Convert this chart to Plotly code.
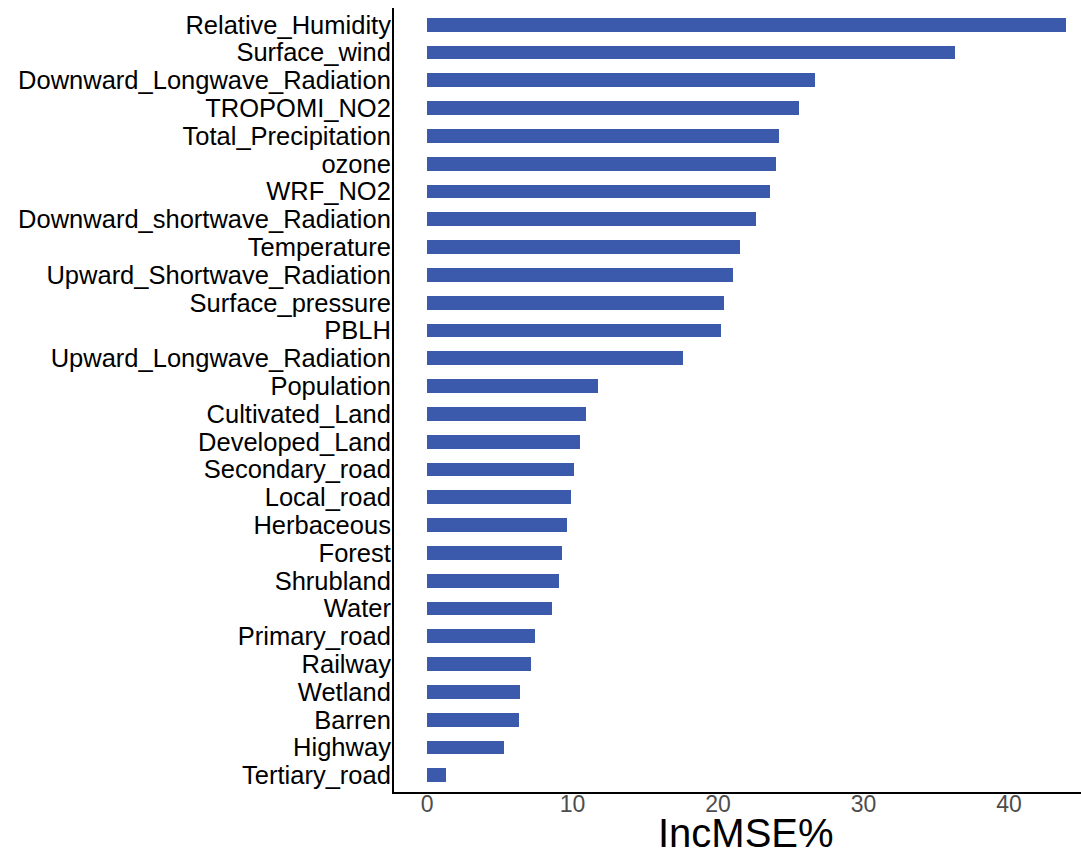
import plotly.graph_objects as go

categories = [
    "Relative_Humidity", "Surface_wind", "Downward_Longwave_Radiation", "TROPOMI_NO2",
    "Total_Precipitation", "ozone", "WRF_NO2", "Downward_shortwave_Radiation",
    "Temperature", "Upward_Shortwave_Radiation", "Surface_pressure", "PBLH",
    "Upward_Longwave_Radiation", "Population", "Cultivated_Land", "Developed_Land",
    "Secondary_road", "Local_road", "Herbaceous", "Forest", "Shrubland", "Water",
    "Primary_road", "Railway", "Wetland", "Barren", "Highway", "Tertiary_road",
]
incmse = [
    43.9, 36.3, 26.7, 25.6, 24.2, 24.0, 23.6, 22.6, 21.5, 21.0, 20.4, 20.2,
    17.6, 11.75, 10.9, 10.5, 10.1, 9.9, 9.6, 9.25, 9.1, 8.6, 7.4, 7.15,
    6.4, 6.3, 5.3, 1.3,
]
x_ticks = [0, 10, 20, 30, 40]

fig = go.Figure(go.Bar(
    x=incmse, y=categories, orientation="h", width=0.5,
    marker=dict(color="#3C5AAB", line=dict(width=0)),
))

fig.update_layout(
    width=1081, height=854,
    margin=dict(l=394, r=0, t=8, b=62),
    plot_bgcolor="white", paper_bgcolor="white",
    font=dict(family="Arial, Liberation Sans, sans-serif", color="black"),
    showlegend=False,
    bargap=0,
)
fig.update_xaxes(
    range=[-2.27, 44.95], tickmode="array", tickvals=x_ticks, showgrid=False, zeroline=False,
    showline=True, linecolor="black", linewidth=2, ticks="",
    tickfont=dict(size=23, color="#4D4D4D"), ticklabelstandoff=-10,
    automargin=False, title=None,
)
fig.update_yaxes(
    type="category", categoryorder="array", categoryarray=categories,
    tickmode="array", tickvals=categories, ticktext=categories,
    range=[27.6, -0.6], showgrid=False, zeroline=False,
    showline=True, linecolor="black", linewidth=2, ticks="",
    tickfont=dict(size=25.5, color="black"), ticklabelstandoff=-4,
    automargin=False,
)
fig.add_annotation(
    text="IncMSE%", xref="x", yref="paper", x=21.9, y=0,
    yshift=-41, showarrow=False, yanchor="middle", xanchor="center",
    font=dict(size=40, color="black"),
)

fig.write_html("out.html")
